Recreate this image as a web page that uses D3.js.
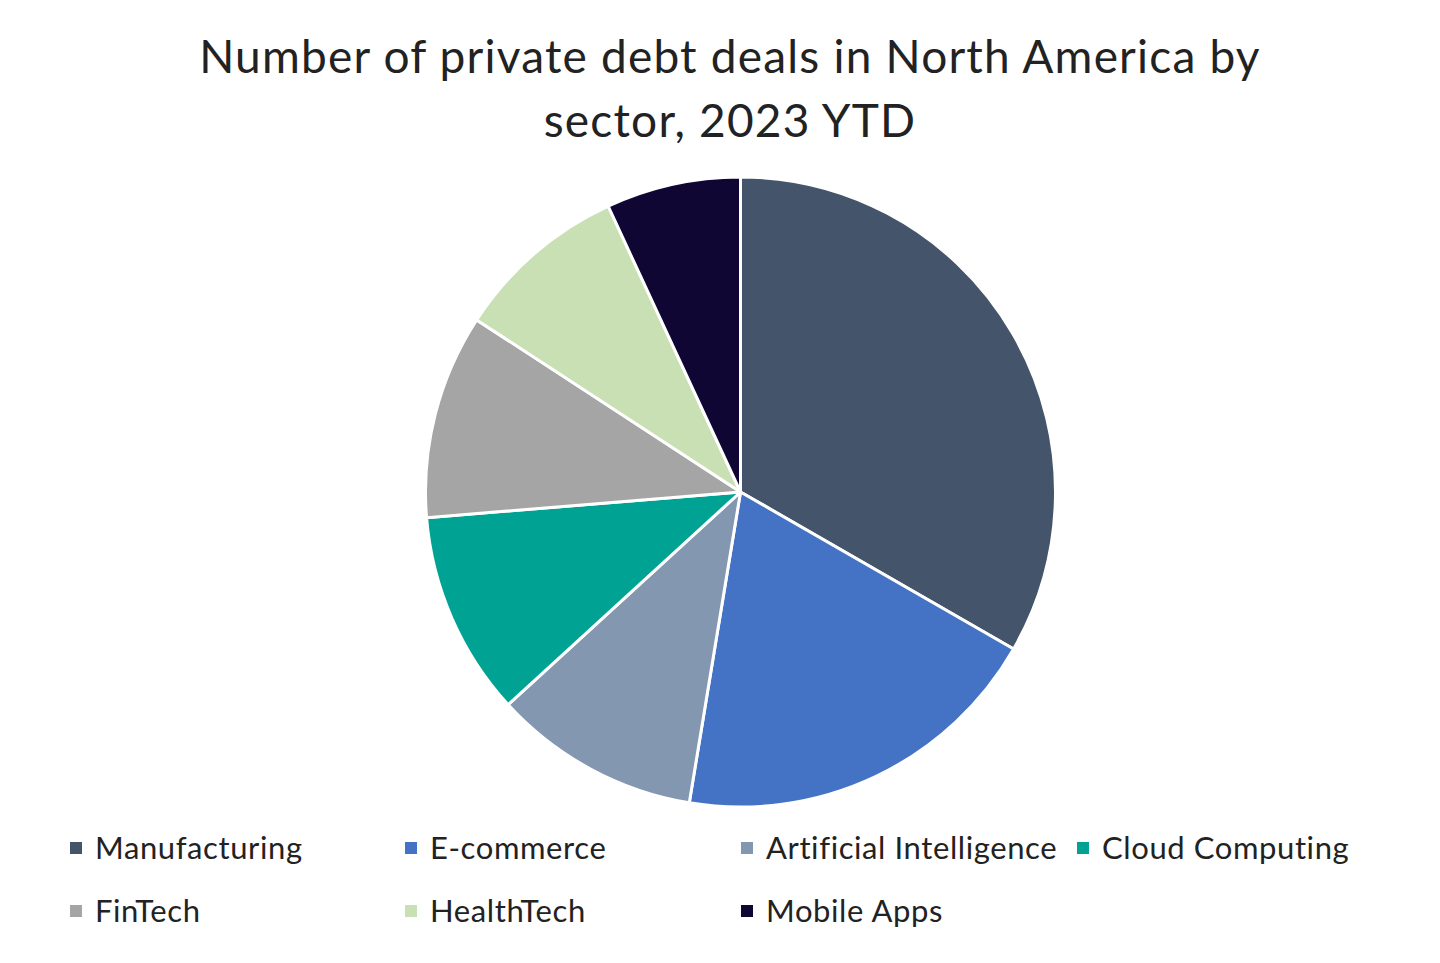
<!DOCTYPE html>
<html><head><meta charset="utf-8">
<script src="https://cdn.jsdelivr.net/npm/d3@7"></script>
<style>body{margin:0;background:#fff;}svg{display:block;}</style>
</head><body>
<svg id="chart" width="1440" height="963"></svg>
<script>
const categories = ["Manufacturing","E-commerce","Artificial Intelligence","Cloud Computing","FinTech","HealthTech","Mobile Apps"];
const values = [33.3, 19.3, 10.6, 10.5, 10.5, 8.9, 6.9];
const colors = ["#44546A","#4472C4","#8497B0","#00A393","#A5A5A5","#C8E0B4","#100634"];
const titleLines = ["Number of private debt deals in North America by","sector, 2023 YTD"];

const svg = d3.select("#chart");
const font = "Lato, 'Noto Sans', sans-serif";

svg.selectAll("text.title").data(titleLines).join("text")
  .attr("class","title")
  .attr("x",730).attr("y",(d,i)=>73+i*64)
  .attr("text-anchor","middle")
  .attr("font-family",font).attr("font-size",46).attr("letter-spacing",1.2).attr("fill","#222")
  .text(d=>d);

const data = categories.map((c,i)=>({name:c,value:values[i],color:colors[i]}));
const pie = d3.pie().value(d=>d.value).sort(null);
const arc = d3.arc().innerRadius(0).outerRadius(315);
const g = svg.append("g").attr("transform","translate(740.5,492)");
g.selectAll("path").data(pie(data)).join("path")
  .attr("d",arc).attr("fill",d=>d.data.color)
  .attr("stroke","#fff").attr("stroke-width",3).attr("stroke-linejoin","round");

const colX = [70,405,741,1077];
const legend = svg.append("g");
const items = legend.selectAll("g").data(data).join("g")
  .attr("transform",(d,i)=>`translate(${colX[i%4]},${848+Math.floor(i/4)*63})`);
items.append("rect").attr("x",0).attr("y",-6).attr("width",12).attr("height",12).attr("fill",d=>d.color);
items.append("text").attr("x",25).attr("y",11)
  .attr("font-family",font).attr("font-size",31).attr("letter-spacing",0.6).attr("fill","#222")
  .text(d=>d.name);
</script>
</body></html>
